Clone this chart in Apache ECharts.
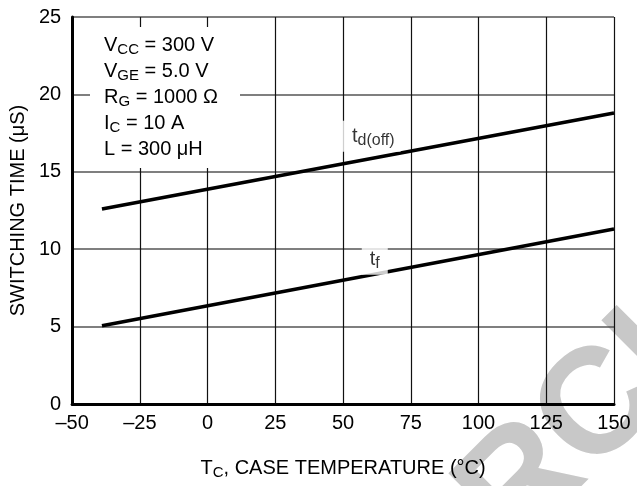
<!DOCTYPE html>
<html><head><meta charset="utf-8">
<script src="https://cdn.jsdelivr.net/npm/echarts@6/dist/echarts.min.js"></script>
<style>html,body{margin:0;padding:0;background:#fff}#c{width:637px;height:486px}</style>
</head><body><div id="c"></div>
<script>
// ---- data ----
const xTicks = [-50, -25, 0, 25, 50, 75, 100, 125, 150];
const yTicks = [0, 5, 10, 15, 20, 25];
const tempC = [-39, 150];
const tdOff = [12.6, 18.8];
const tFall = [5.05, 11.3];
const conditions = [
  ['V', 'CC', ' = 300 V'],
  ['V', 'GE', ' = 5.0 V'],
  ['R', 'G', ' = 1000 Ω'],
  ['I', 'C', ' = 10 A'],
  ['L', '', ' = 300 μH']
];
const seriesNames = [['t', 'd(off)'], ['t', 'f']];
const xTitle = ['T', 'C', ', CASE TEMPERATURE (°C)'];
const yTitle = 'SWITCHING TIME (μS)';
const watermark = 'ARCHIVE';

// ---- chart ----
const FONT = 'Liberation Sans, Arial, sans-serif';
const chart = echarts.init(document.getElementById('c'), null, {renderer: 'canvas'});
const pair = (xs, ys) => xs.map((x, i) => [x, ys[i]]);
const condText = conditions.map(c => '{a|' + c[0] + '}' + (c[1] ? '{s|' + c[1] + '}' : '') + '{a|' + c[2] + '}').join('\n');

const labelSeries = (name, pt, pad) => ({
  type: 'scatter', symbolSize: 0, silent: true, z: 5,
  data: [pt],
  label: {
    show: true, position: 'inside',
    formatter: '{t|' + name[0] + '}{s|' + name[1] + '}',
    backgroundColor: '#fff', padding: pad,
    rich: {
      t: {fontSize: 20, fontFamily: FONT, color: '#000'},
      s: {fontSize: 16, fontFamily: FONT, color: '#000', padding: [9, 0, 0, 0]}
    }
  }
});

chart.setOption({
  animation: false,
  backgroundColor: '#fff',
  grid: {left: 67, right: 23, top: 17, bottom: 82},
  xAxis: {
    type: 'value', min: xTicks[0], max: xTicks[xTicks.length - 1], interval: 25,
    axisLine: {show: true, onZero: false, lineStyle: {color: '#000', width: 3}},
    axisTick: {show: false},
    axisLabel: {
      fontSize: 20, fontFamily: FONT, color: '#000', margin: 9,
      formatter: v => (v < 0 ? '–' + Math.abs(v) : String(v))
    },
    splitLine: {show: true, lineStyle: {color: '#111', width: 1.2}},
    name: '{a|' + xTitle[0] + '}{s|' + xTitle[1] + '}{a|' + xTitle[2] + '}',
    nameLocation: 'middle', nameGap: 52,
    nameTextStyle: {
      rich: {
        a: {fontSize: 20, fontFamily: FONT, color: '#000'},
        s: {fontSize: 15, fontFamily: FONT, color: '#000', padding: [9, 0, 0, 0]}
      }
    }
  },
  yAxis: {
    type: 'value', min: yTicks[0], max: yTicks[yTicks.length - 1], interval: 5,
    axisLine: {show: true, onZero: false, lineStyle: {color: '#000', width: 3}},
    axisTick: {show: false},
    axisLabel: {fontSize: 20, fontFamily: FONT, color: '#000', margin: 11},
    splitLine: {show: true, lineStyle: {color: '#555', width: 1.5}},
    name: yTitle, nameLocation: 'middle', nameGap: 40, nameRotate: 90,
    nameTextStyle: {fontSize: 20, fontFamily: FONT, color: '#000'}
  },
  series: [
    {type: 'line', data: pair(tempC, tdOff), showSymbol: false, symbol: 'none', z: 3,
     lineStyle: {color: '#000', width: 3.6}},
    {type: 'line', data: pair(tempC, tFall), showSymbol: false, symbol: 'none', z: 3,
     lineStyle: {color: '#000', width: 3.6}},
    labelSeries(seriesNames[0], [59.5, 17.3], [3, 6, 3, 15]),
    labelSeries(seriesNames[1], [61.7, 9.35], [3, 8, 3, 8])
  ],
  graphic: [
    {type: 'text', x: 647, y: 362, z: -1, silent: true,
     rotation: 45 * Math.PI / 180,
     style: {text: watermark, fontSize: 150, fontWeight: 'bold', fontFamily: FONT, fill: '#c8c8c8',
             align: 'center', verticalAlign: 'middle'}},
    {type: 'rect', shape: {x: 90, y: 27, width: 150, height: 141}, z: 10, silent: true,
     style: {fill: '#fff'}},
    {type: 'text', x: 104, y: 32, z: 11, silent: true,
     style: {
       text: condText,
       rich: {
         a: {fontSize: 20, fontFamily: FONT, fill: '#000', lineHeight: 26},
         s: {fontSize: 15, fontFamily: FONT, fill: '#000', padding: [9, 0, 0, 0]}
       }
     }}
  ]
});
</script></body></html>
